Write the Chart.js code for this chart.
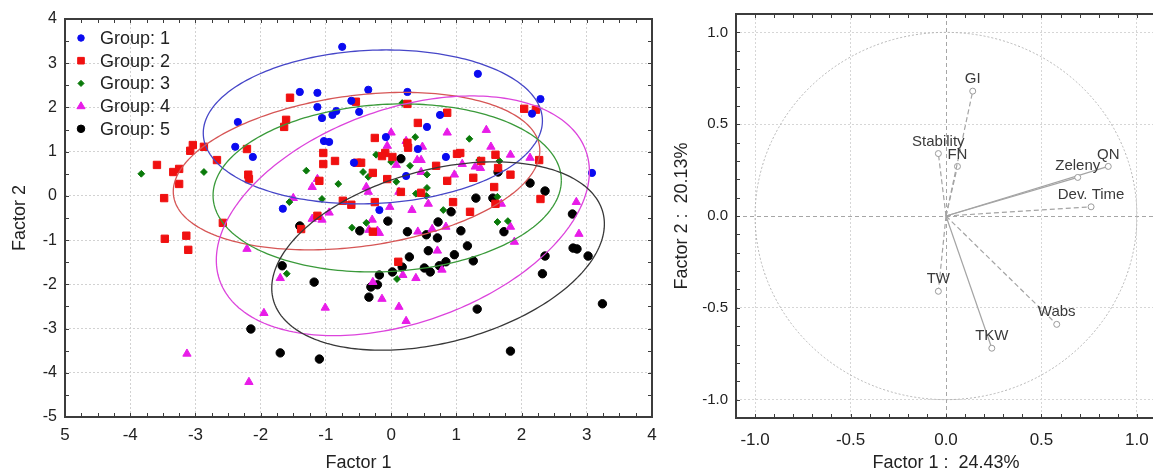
<!DOCTYPE html>
<html><head><meta charset="utf-8">
<script src="https://cdn.jsdelivr.net/npm/chart.js@4.4.1/dist/chart.umd.min.js"></script>
<style>
html,body{margin:0;padding:0;background:#fff;overflow:hidden;width:1153px;height:474px;position:relative;}
#c1{position:absolute;left:0;top:0;}
#c2{position:absolute;left:665px;top:0;}
</style></head><body>
<canvas id="c1" width="665" height="474"></canvas>
<canvas id="c2" width="500" height="474"></canvas>
<script>
// ---------- Left chart data (factor scores) ----------
const groupLabels = ['Group: 1','Group: 2','Group: 3','Group: 4','Group: 5'];
const group1 = [[-0.75,3.37],[1.33,2.76],[-1.40,2.35],[-1.13,2.33],[-0.35,2.40],[0.25,2.35],[-0.61,2.15],[-1.13,2.01],[-1.06,1.76],[-0.90,1.83],[-0.84,1.92],[-0.49,1.90],[0.75,1.83],[0.55,1.56],[2.29,2.19],[2.16,1.86],[-2.35,1.67],[-2.39,1.11],[-2.12,0.88],[-1.03,1.24],[-0.95,1.22],[-0.08,1.33],[0.41,1.06],[0.84,0.88],[-0.57,0.75],[0.23,0.45],[3.08,0.52],[-1.66,-0.29],[-0.18,-0.32]];
const group2 = [[-3.59,0.70],[-3.34,0.54],[-3.25,0.61],[-3.25,0.27],[-3.48,-0.05],[-3.08,1.02],[-3.04,1.15],[-2.87,1.11],[-2.67,0.81],[-2.21,1.06],[-2.19,0.48],[-2.18,0.38],[-1.55,2.22],[-1.61,1.72],[-1.64,1.56],[-0.54,2.13],[0.25,2.08],[0.86,1.88],[0.41,1.65],[-0.25,1.31],[0.25,1.20],[0.26,1.09],[-0.09,0.97],[-0.14,0.90],[0.02,0.88],[-1.04,0.97],[-1.04,0.72],[-0.86,0.79],[-0.52,0.75],[-0.46,0.75],[-0.28,0.52],[-1.10,0.34],[-0.06,0.38],[0.69,0.68],[1.01,0.95],[1.06,0.97],[0.86,0.34],[1.26,0.41],[0.15,0.09],[0.46,0.07],[-0.74,-0.11],[-0.61,-0.20],[-0.25,-0.14],[0.95,-0.14],[1.21,-0.36],[-1.13,-0.45],[2.04,1.97],[2.22,1.95],[1.60,0.93],[1.38,0.79],[2.27,0.81],[1.64,0.63],[1.83,0.48],[1.58,0.20],[2.29,-0.07],[1.60,-0.18],[-2.58,-0.61],[-3.47,-0.97],[-3.14,-0.90],[-3.11,-1.22],[-1.38,-0.75],[-0.28,-0.81],[0.11,-1.49]];
const group3 = [[-3.83,0.50],[-2.87,0.54],[-1.30,0.57],[-1.06,-0.07],[-1.56,-0.14],[-0.81,0.27],[-0.43,0.54],[-0.35,0.43],[-0.23,0.93],[0.00,0.77],[0.08,0.32],[-0.60,-0.72],[-0.38,-0.61],[0.17,2.10],[0.37,1.33],[0.29,0.68],[0.55,0.48],[1.20,1.29],[1.35,0.81],[1.66,0.79],[0.55,0.18],[0.54,0.00],[0.38,0.05],[0.80,-0.32],[1.63,-0.02],[1.63,-0.59],[1.79,-0.57],[-1.60,-1.76],[0.09,-1.88]];
const group4 = [[-1.50,-0.05],[-1.21,0.20],[-1.13,0.38],[-1.21,-0.52],[-1.06,-0.54],[-0.95,-0.38],[-0.38,0.20],[-0.35,0.09],[-0.29,-0.54],[-0.34,-0.77],[-0.21,-0.79],[-0.18,-0.84],[-0.02,-0.25],[0.00,1.43],[-0.06,1.13],[0.23,1.24],[0.48,1.11],[0.08,0.70],[0.40,0.81],[0.46,0.81],[0.46,0.54],[0.12,0.09],[0.86,1.43],[1.46,1.49],[1.53,1.11],[1.83,0.93],[2.13,0.86],[0.97,0.48],[1.09,0.72],[1.29,0.66],[1.37,0.63],[0.32,-0.32],[0.57,-0.18],[1.69,-0.18],[2.84,-0.14],[2.88,-0.86],[1.83,-0.70],[1.89,-1.04],[0.41,-0.81],[0.63,-0.75],[0.84,-0.70],[0.71,-1.24],[0.78,-1.67],[0.18,-1.79],[0.38,-1.86],[-0.28,-1.95],[-0.14,-2.33],[0.12,-2.51],[0.23,-2.83],[-1.01,-2.53],[-2.21,-1.20],[-1.70,-1.86],[-1.95,-2.65],[-3.13,-3.57],[-2.18,-4.21]];
const group5 = [[-1.40,-0.68],[-0.48,-0.79],[-0.05,-0.57],[0.15,0.84],[1.64,0.54],[2.13,0.29],[2.36,0.11],[1.30,-0.05],[1.56,-0.05],[2.78,-0.41],[0.92,-0.36],[0.72,-0.59],[1.07,-0.79],[1.73,-0.81],[0.25,-0.81],[0.54,-0.88],[0.71,-0.95],[1.17,-1.13],[1.26,-1.47],[0.57,-1.24],[0.28,-1.38],[0.97,-1.33],[0.84,-1.49],[0.74,-1.58],[0.51,-1.63],[0.60,-1.72],[0.17,-1.61],[0.02,-1.72],[-0.18,-1.79],[-0.21,-2.01],[-0.31,-2.06],[-0.34,-2.29],[-1.18,-1.95],[-1.10,-3.69],[1.32,-2.56],[2.36,-1.36],[2.32,-1.76],[2.79,-1.18],[2.85,-1.20],[3.02,-1.36],[3.24,-2.44],[1.83,-3.51],[-1.67,-1.58],[-2.15,-3.01],[-1.70,-3.55]];
const groups = [group1, group2, group3, group4, group5];
// confidence ellipses: centre, half-width, half-height, correlation
const ellCX = [-0.28, -0.53, -0.06, 0.18, 0.72];
const ellCY = [1.56, 0.56, 0.18, -0.45, -1.36];
const ellSX = [2.60, 2.81, 2.67, 2.86, 2.55];
const ellSY = [1.74, 1.78, 1.90, 2.71, 2.13];
const ellR  = [0.08, 0.26, 0.09, 0.37, 0.34];
const xTicks1 = [-5,-4,-3,-2,-1,0,1,2,3,4];
const xTickLabels1 = ['5','-4','-3','-2','-1','0','1','2','3','4'];
const yTicks1 = [-5,-4,-3,-2,-1,0,1,2,3,4];

// ---------- Right chart data (loadings) ----------
const varNames = ['GI','Stability','FN','Zeleny','QN','Dev. Time','TW','TKW','Wabs'];
const varX = [0.14, -0.04, 0.06, 0.69, 0.85, 0.76, -0.04, 0.24, 0.58];
const varY = [0.68, 0.34, 0.27, 0.21, 0.27, 0.05, -0.41, -0.72, -0.59];
const ticks2 = [-1.0,-0.5,0.0,0.5,1.0];
const tickLabels2 = ['-1.0','-0.5','0.0','0.5','1.0'];

// ---------- styles ----------
const FONT = 'Arial, "Liberation Sans", sans-serif';
Chart.defaults.font.family = FONT;
Chart.defaults.color = '#222';
const ptColors = ['#0a0af0','#f01010','#0a7a0a','#e81ce8','#000000'];
const ptStyles = ['circle','rect','rectRot','triangle','circle'];
const ptRadius = [3.6, 5.2, 3.4, 4.8, 4.2];
const ellColors = ['#4646c8','#d65656','#3a9a3a','#dc44dc','#383838'];
const vecDash = [[5,3],[5,3],[5,3],[],[],[5,3],[5,3],[],[5,3]];

function drawMarker(ctx, style, r, x, y, color){
  ctx.save(); ctx.fillStyle=color; ctx.strokeStyle=color; ctx.lineWidth=1;
  ctx.beginPath();
  if(style==='circle'){ ctx.arc(x,y,r,0,Math.PI*2); }
  else if(style==='rect'){ const s=r*Math.SQRT1_2; ctx.rect(x-s,y-s,2*s,2*s); }
  else if(style==='rectRot'){ ctx.moveTo(x-r,y); ctx.lineTo(x,y-r); ctx.lineTo(x+r,y); ctx.lineTo(x,y+r); ctx.closePath(); }
  else if(style==='triangle'){ ctx.moveTo(x,y-r); ctx.lineTo(x+r*0.95,y+r*0.6); ctx.lineTo(x-r*0.95,y+r*0.6); ctx.closePath(); }
  ctx.fill(); ctx.stroke(); ctx.restore();
}

function framePlugin(minorX, minorY, rightSide){
  return { id:'frame', afterDraw(chart){
    const {ctx, chartArea:a, scales:{x,y}} = chart;
    ctx.save(); ctx.strokeStyle='#3c3c3c'; ctx.lineWidth=1; ctx.beginPath();
    for(let v=x.min; v<=x.max+1e-9; v+=minorX){ const p=Math.round(x.getPixelForValue(v))+0.5;
      if(!rightSide && p>a.right-3) continue;
      ctx.moveTo(p,a.top); ctx.lineTo(p,a.top+4); ctx.moveTo(p,a.bottom); ctx.lineTo(p,a.bottom-4); }
    for(let v=y.min; v<=y.max+1e-9; v+=minorY){ const p=Math.round(y.getPixelForValue(v))+0.5;
      ctx.moveTo(a.left,p); ctx.lineTo(a.left+4,p);
      if(rightSide){ ctx.moveTo(a.right,p); ctx.lineTo(a.right-4,p); } }
    ctx.stroke();
    ctx.lineWidth=2;
    if(rightSide){ ctx.strokeRect(a.left,a.top,a.right-a.left,a.bottom-a.top); }
    else {
      const w = chart.width;
      ctx.beginPath(); ctx.moveTo(w,a.top); ctx.lineTo(a.left,a.top); ctx.lineTo(a.left,a.bottom); ctx.lineTo(w,a.bottom); ctx.stroke();
    }
    ctx.restore();
  }};
}

const ellipsePlugin = { id:'ellipses', afterDatasetsDraw(chart){
  const {ctx, chartArea:a, scales:{x,y}} = chart;
  ctx.save(); ctx.beginPath(); ctx.rect(a.left,a.top,a.right-a.left,a.bottom-a.top); ctx.clip();
  ellCX.forEach((cx,i)=>{
    const cy=ellCY[i], sx=ellSX[i], sy=ellSY[i], r=ellR[i], q=Math.sqrt(1-r*r);
    ctx.beginPath();
    for(let k=0;k<=240;k++){ const t=k/240*2*Math.PI;
      const px=x.getPixelForValue(cx+sx*Math.cos(t));
      const py=y.getPixelForValue(cy+sy*(r*Math.cos(t)+q*Math.sin(t)));
      if(k) ctx.lineTo(px,py); else ctx.moveTo(px,py); }
    ctx.strokeStyle=ellColors[i]; ctx.lineWidth=1.3; ctx.stroke();
  });
  ctx.restore();
}};

const legendPlugin = { id:'innerLegend', afterDraw(chart){
  const ctx=chart.ctx; const a=chart.chartArea;
  ctx.save(); ctx.font='18px '+FONT; ctx.fillStyle='#222'; ctx.textBaseline='middle'; ctx.textAlign='left';
  groupLabels.forEach((lab,i)=>{
    const cy=a.top+19+i*22.7;
    drawMarker(ctx, ptStyles[i], ptRadius[i]*0.9, a.left+16, cy, ptColors[i]);
    ctx.fillStyle='#222'; ctx.fillText(lab, a.left+35, cy+1);
  });
  ctx.restore();
}};

new Chart(document.getElementById('c1'), {
  type:'scatter',
  data:{ datasets: groups.map((g,i)=>({
    label: groupLabels[i],
    data: g.map(p=>({x:p[0], y:p[1]})),
    pointStyle: ptStyles[i], pointRadius: ptRadius[i],
    backgroundColor: ptColors[i], borderColor: ptColors[i], pointBorderWidth: 1
  }))},
  options:{
    responsive:false, animation:false, devicePixelRatio:1, events:[],
    layout:{ padding:{ top:19, right:13, left:0, bottom:0 } },
    plugins:{ legend:{display:false}, tooltip:{enabled:false} },
    scales:{
      x:{ type:'linear', min:-5, max:4,
        afterBuildTicks:s=>{ s.ticks = xTicks1.map(v=>({value:v})); },
        afterFit:s=>{ s.height = 57; s.paddingLeft = 0; s.paddingRight = 0; },
        ticks:{ callback:(v,i)=>xTickLabels1[i], font:{size:17}, color:'#222', padding:8, maxRotation:0, autoSkip:false },
        grid:{ color:'#d2d2d2', lineWidth:1, drawTicks:false },
        border:{ display:false, dash:[2,2] },
        title:{ display:true, text:'Factor 1', font:{size:18}, color:'#222', padding:{top:0,bottom:0} } },
      y:{ type:'linear', min:-5, max:4,
        afterBuildTicks:s=>{ s.ticks = yTicks1.map(v=>({value:v})); },
        afterFit:s=>{ s.width = 65; s.paddingTop = 0; s.paddingBottom = 0; },
        ticks:{ font:{size:16}, color:'#222', padding:8, autoSkip:false },
        grid:{ color:'#d2d2d2', lineWidth:1, drawTicks:false },
        border:{ display:false, dash:[2,2] },
        title:{ display:true, text:'Factor 2', font:{size:18}, color:'#222', padding:{top:9,bottom:0} } }
    }
  },
  plugins:[ellipsePlugin, framePlugin(0.25,0.5,true), legendPlugin]
});

// ---------- Right chart ----------
const circlePlugin = { id:'circle', beforeDatasetsDraw(chart){
  const {ctx, chartArea:a, scales:{x,y}} = chart;
  const x0=x.getPixelForValue(0), y0=y.getPixelForValue(0);
  ctx.save(); ctx.beginPath(); ctx.rect(a.left,a.top,a.right-a.left,a.bottom-a.top); ctx.clip();
  ctx.strokeStyle='#a6a6a6'; ctx.lineWidth=1; ctx.setLineDash([4,3]);
  ctx.beginPath(); ctx.moveTo(Math.round(x0)+0.5,a.top); ctx.lineTo(Math.round(x0)+0.5,a.bottom);
  ctx.moveTo(a.left,Math.round(y0)+0.5); ctx.lineTo(a.right,Math.round(y0)+0.5); ctx.stroke();
  ctx.strokeStyle='#b4b4b4'; ctx.setLineDash([2,2]);
  ctx.beginPath(); ctx.ellipse(x0,y0,x.getPixelForValue(1)-x0,y0-y.getPixelForValue(1),0,0,Math.PI*2); ctx.stroke();
  ctx.restore();
}};
const labelPlugin = { id:'varLabels', afterDatasetsDraw(chart){
  const {ctx, scales:{x,y}} = chart;
  ctx.save(); ctx.font='15px '+FONT; ctx.fillStyle='#3a3a3a'; ctx.textAlign='center'; ctx.textBaseline='middle';
  varNames.forEach((n,i)=>{ ctx.fillText(n, x.getPixelForValue(varX[i]), y.getPixelForValue(varY[i])-12); });
  ctx.restore();
}};

new Chart(document.getElementById('c2'), {
  type:'scatter',
  data:{ datasets: varNames.map((n,i)=>({
    label:n,
    data:[{x:0,y:0},{x:varX[i],y:varY[i]}],
    showLine:true, borderColor:'#a4a4a4', borderWidth:1.2, borderDash:vecDash[i],
    pointRadius:[0,3], pointStyle:'circle', pointBackgroundColor:'#ffffff', pointBorderColor:'#9a9a9a', pointBorderWidth:1
  }))},
  options:{
    responsive:false, animation:false, devicePixelRatio:1, events:[],
    layout:{ padding:{ top:14, right:9, left:0, bottom:0 } },
    plugins:{ legend:{display:false}, tooltip:{enabled:false} },
    scales:{
      x:{ type:'linear', min:-1.1, max:1.1,
        afterBuildTicks:s=>{ s.ticks = ticks2.map(v=>({value:v})); },
        afterFit:s=>{ s.height = 56; s.paddingLeft = 0; s.paddingRight = 0; },
        ticks:{ callback:(v,i)=>tickLabels2[i], font:{size:17}, color:'#222', padding:12, maxRotation:0, autoSkip:false },
        grid:{ color:c=> c.tick && c.tick.value===0 ? 'rgba(0,0,0,0)' : '#d6d6d6', lineWidth:1, drawTicks:false },
        border:{ display:false, dash:[2,2] },
        title:{ display:true, text:'Factor 1 :  24.43%', font:{size:18}, color:'#222', padding:{top:0,bottom:0} } },
      y:{ type:'linear', min:-1.1, max:1.1,
        afterBuildTicks:s=>{ s.ticks = ticks2.map(v=>({value:v})); },
        afterFit:s=>{ s.width = 71; s.paddingTop = 0; s.paddingBottom = 0; },
        ticks:{ callback:(v,i)=>tickLabels2[i], font:{size:15}, color:'#222', padding:8, autoSkip:false },
        grid:{ color:c=> c.tick && c.tick.value===0 ? 'rgba(0,0,0,0)' : '#d6d6d6', lineWidth:1, drawTicks:false },
        border:{ display:false, dash:[2,2] },
        title:{ display:true, text:'Factor 2 :  20.13%', font:{size:18}, color:'#222', padding:{top:6,bottom:0} } }
    }
  },
  plugins:[circlePlugin, framePlugin(0.1,0.1,false), labelPlugin]
});
</script>
</body></html>
